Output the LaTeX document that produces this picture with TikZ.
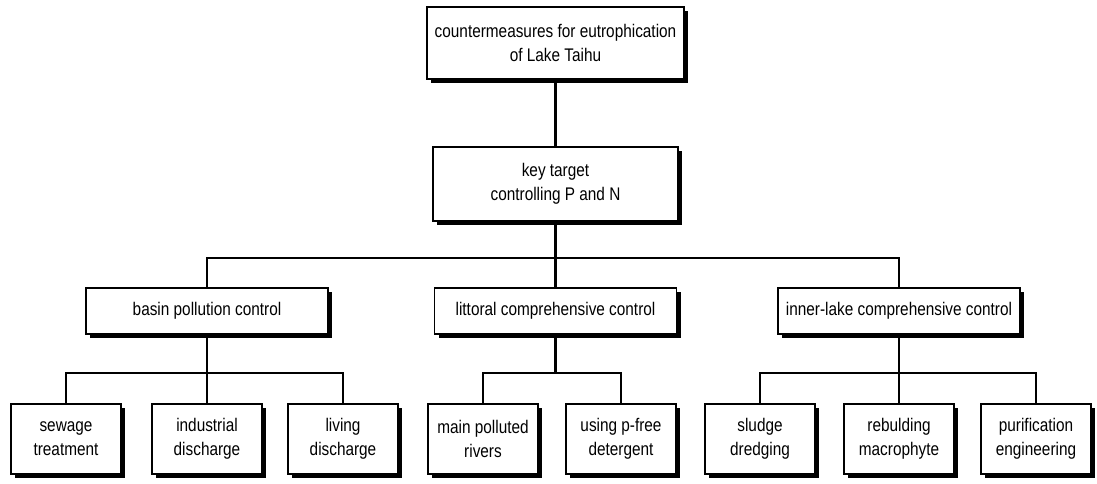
\documentclass[tikz,border=0pt]{standalone}
\usepackage{fontspec}
\setmainfont{Liberation Sans}[FakeStretch=0.84]
\usepackage{tikz}
\usetikzlibrary{shadows}
\tikzstyle{tree}=[x=0.025cm, y=-0.025cm, font=\fontsize{13}{17}\selectfont]
\tikzstyle{box}=[rectangle, draw=black, line width=1pt, fill=white, align=center, inner sep=2pt,
  drop shadow={shadow xshift=0.11cm, shadow yshift=-0.11cm, fill=black, opacity=1}]
\tikzstyle{top}=[box, minimum width=6.425cm, minimum height=1.8cm]
\tikzstyle{key}=[box, minimum width=6.125cm, minimum height=1.85cm]
\tikzstyle{mid}=[box, minimum width=6.05cm, minimum height=1.15cm]
\tikzstyle{leaf}=[box, minimum width=2.75cm, minimum height=1.75cm]
\tikzstyle{link}=[line width=2pt, line cap=rect]

\begin{document}
\begin{tikzpicture}[tree]
	\useasboundingbox (0,0) rectangle (1097,483);
	% levels
	\draw (555.5,43) node[top] (goal) {countermeasures for eutrophication\\of Lake Taihu};
	\draw (555.5,184) node[key] (target) {key target\\controlling P and N};
	\draw (207,311) node[mid] (basin) {basin pollution control};
	\draw (555.5,311) node[mid] (littoral) {littoral comprehensive control};
	\draw (899,311) node[mid] (inner) {inner-lake comprehensive control};
	\draw (66,439) node[leaf] (sewage) {sewage\\treatment};
	\draw (207,439) node[leaf] (industrial) {industrial\\discharge};
	\draw (343,439) node[leaf] (living) {living\\discharge};
	\draw (483,439) node[leaf] (rivers) {main polluted\\rivers};
	\draw (621,439) node[leaf] (detergent) {using p-free\\detergent};
	\draw (760,439) node[leaf] (sludge) {sludge\\dredging};
	\draw (899,439) node[leaf] (macrophyte) {rebulding\\macrophyte};
	\draw (1036,439) node[leaf] (purification) {purification\\engineering};
	% junctions
	\coordinate (j0) at (555.5,258);
	\coordinate (j1) at (207,373);
	\coordinate (j2) at (555.5,373);
	\coordinate (j3) at (899,373);
	% connectors
	\draw[link] (goal.south) -- (target.north);
	\draw[link] (target.south) -- (j0);
	\draw[link] (j0) -| (basin.north);
	\draw[link] (j0) -| (inner.north);
	\draw[link] (j0) -- (littoral.north);
	\draw[link] (basin.south) -- (j1);
	\draw[link] (j1) -| (sewage.north);
	\draw[link] (j1) -| (living.north);
	\draw[link] (j1) -- (industrial.north);
	\draw[link] (littoral.south) -- (j2);
	\draw[link] (j2) -| (rivers.north);
	\draw[link] (j2) -| (detergent.north);
	\draw[link] (inner.south) -- (j3);
	\draw[link] (j3) -| (sludge.north);
	\draw[link] (j3) -| (purification.north);
	\draw[link] (j3) -- (macrophyte.north);
\end{tikzpicture}
\end{document}
